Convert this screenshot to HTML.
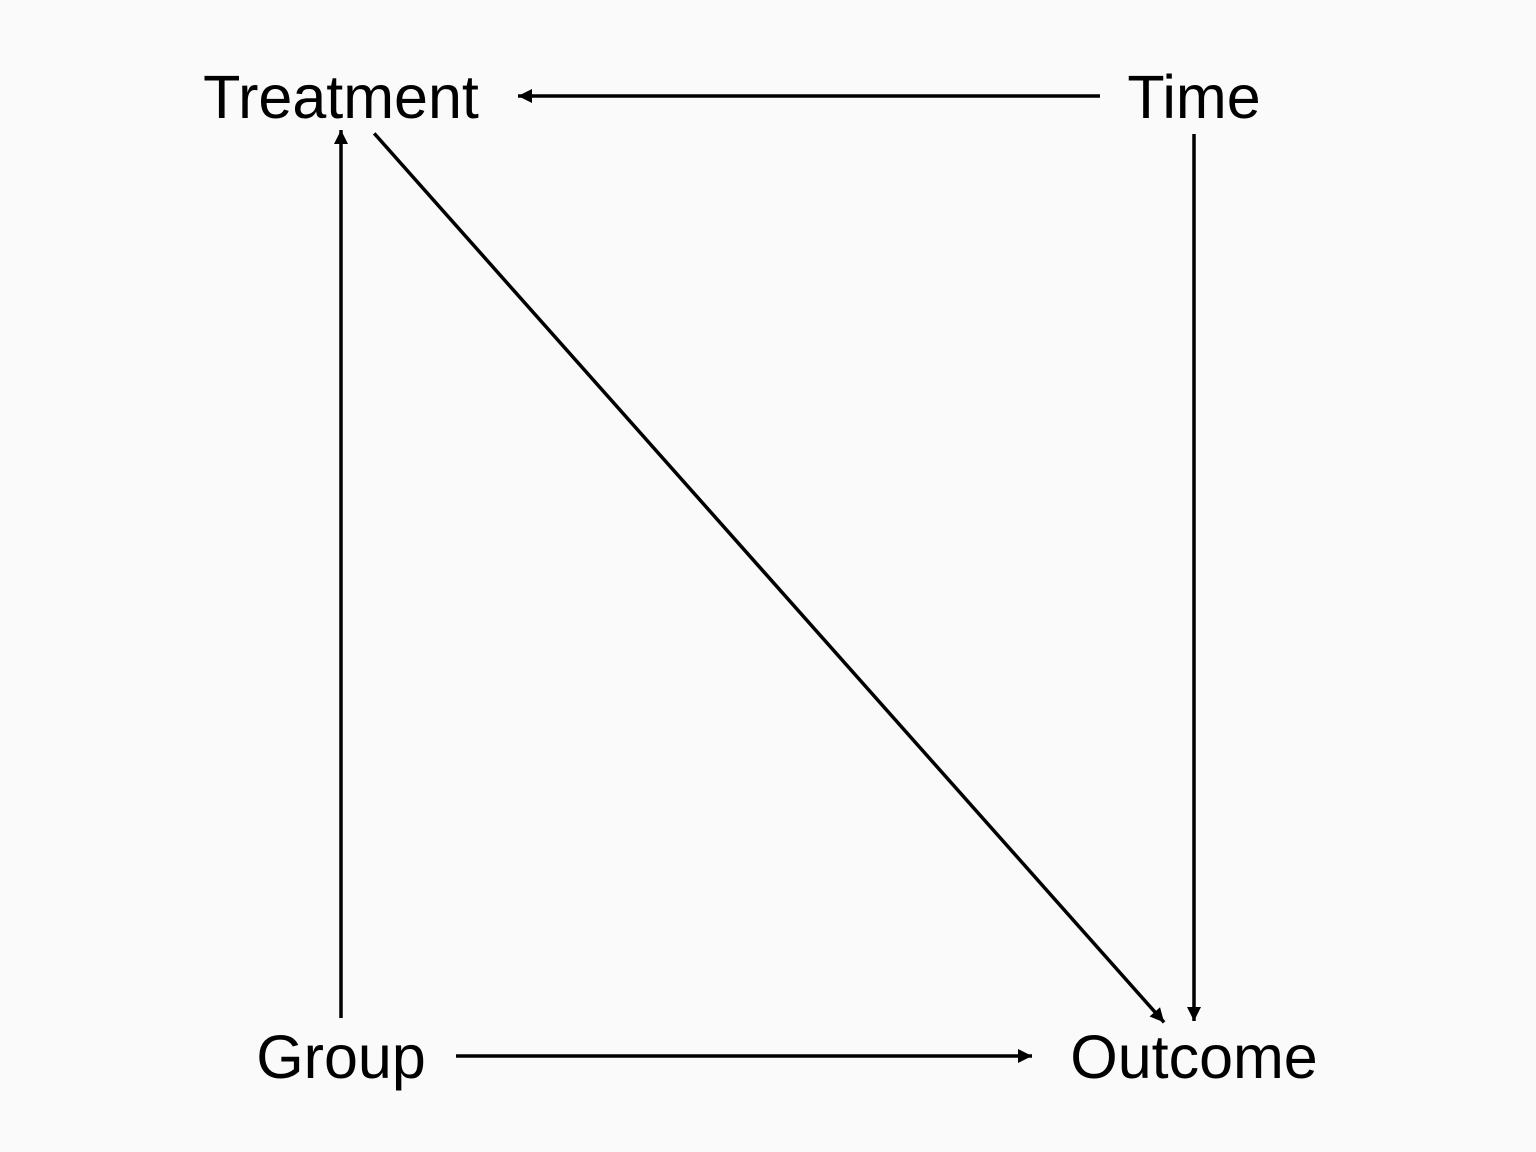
<!DOCTYPE html>
<html>
<head>
<meta charset="utf-8">
<style>
html,body{margin:0;padding:0;background:#fafafa;}
svg{display:block;}
text{font-family:"Liberation Sans",Arial,sans-serif;font-size:61px;fill:#000;}
</style>
</head>
<body>
<svg id="dag" width="1536" height="1152" viewBox="0 0 1536 1152" xmlns="http://www.w3.org/2000/svg">
<rect width="1536" height="1152" fill="#fafafa"/>
<defs>
<marker id="ah" viewBox="0 0 10 10" refX="10" refY="5" markerWidth="4.2" markerHeight="4" markerUnits="strokeWidth" orient="auto">
<path d="M0,0 L10,5 L0,10 z" fill="#000"/>
</marker>
</defs>
<g id="edges"></g>
<g id="nodes"></g>
</svg>
<script>
const nodeNames = ["Treatment","Time","Group","Outcome"];
const nodeX = [341,1194,341,1194];
const nodeY = [96,96,1056,1056];
const edgeFrom = ["Time","Time","Treatment","Group","Group"];
const edgeTo = ["Treatment","Outcome","Outcome","Treatment","Outcome"];
const edgeStartGap = [94,38,50,38,115];
const edgeEndGap = [177,35,45,34,162];

const ns="http://www.w3.org/2000/svg";
const eg=document.getElementById('edges'), ng=document.getElementById('nodes');
function idx(n){return nodeNames.indexOf(n);}
for(let i=0;i<edgeFrom.length;i++){
  const a=idx(edgeFrom[i]), b=idx(edgeTo[i]);
  const x1=nodeX[a],y1=nodeY[a],x2=nodeX[b],y2=nodeY[b];
  const dx=x2-x1,dy=y2-y1,L=Math.hypot(dx,dy),ux=dx/L,uy=dy/L;
  const l=document.createElementNS(ns,'line');
  l.setAttribute('x1',x1+ux*edgeStartGap[i]);
  l.setAttribute('y1',y1+uy*edgeStartGap[i]);
  l.setAttribute('x2',x2-ux*edgeEndGap[i]);
  l.setAttribute('y2',y2-uy*edgeEndGap[i]);
  l.setAttribute('stroke','#000');
  l.setAttribute('stroke-width','3.5');
  l.setAttribute('marker-end','url(#ah)');
  
  
  eg.appendChild(l);
}
for(let i=0;i<nodeNames.length;i++){
  const t=document.createElementNS(ns,'text');
  t.setAttribute('x',nodeX[i]);
  t.setAttribute('y',nodeY[i]+22);
  t.setAttribute('text-anchor','middle');
  t.textContent=nodeNames[i];
  
  
  ng.appendChild(t);
}
</script>
</body>
</html>
